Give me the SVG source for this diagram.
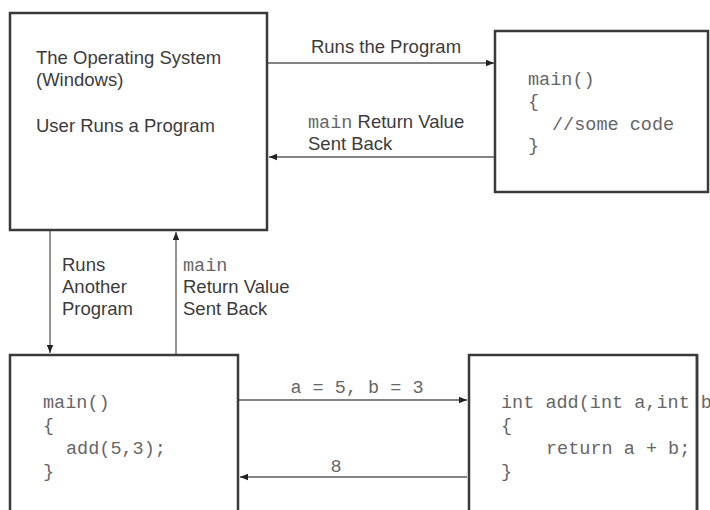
<svg xmlns="http://www.w3.org/2000/svg" width="710" height="510" viewBox="0 0 710 510">
  <style>
    .box { fill: #ffffff; stroke: #3a3a3a; stroke-width: 2.5; }
    .link { stroke: #5a5a5a; stroke-width: 1.3; fill: none; }
    .sans { font-family: "Liberation Sans", Arial, sans-serif; font-size: 18.5px; fill: #3c3c3c; }
    .mono { font-family: "Liberation Mono", "Courier New", monospace; font-size: 18.5px; fill: #666666; }
    .mid { text-anchor: middle; }
  </style>
  <defs>
    <marker id="head" viewBox="0 0 10 10" refX="10" refY="5" markerWidth="8" markerHeight="8" markerUnits="userSpaceOnUse" orient="auto">
      <path d="M0,1 L10,5 L0,9 Z" fill="#222222"/>
    </marker>
  </defs>

  <rect width="710" height="510" fill="#ffffff"/>

  <!-- connectors -->
  <g id="connectors">
    <line class="link" x1="268" y1="63" x2="494" y2="63" marker-end="url(#head)"/>
    <line class="link" x1="494" y1="157" x2="269" y2="157" marker-end="url(#head)"/>
    <line class="link" x1="50" y1="231" x2="50" y2="353" marker-end="url(#head)"/>
    <line class="link" x1="176" y1="354" x2="176" y2="232" marker-end="url(#head)"/>
    <line class="link" x1="239" y1="400" x2="467" y2="400" marker-end="url(#head)"/>
    <line class="link" x1="467" y1="477" x2="240" y2="477" marker-end="url(#head)"/>

    <text class="sans mid" x="386" y="53">Runs the Program</text>
    <text x="308" y="128"><tspan class="mono">main</tspan><tspan class="sans"> Return Value</tspan></text>
    <text class="sans" x="308" y="150">Sent Back</text>

    <text class="sans" x="62" y="271">Runs</text>
    <text class="sans" x="62" y="293">Another</text>
    <text class="sans" x="62" y="315">Program</text>

    <text class="mono" x="183" y="271">main</text>
    <text class="sans" x="183" y="293">Return Value</text>
    <text class="sans" x="183" y="315">Sent Back</text>

    <text class="mono mid" x="357" y="393">a = 5, b = 3</text>
    <text class="mono mid" x="336" y="472">8</text>
  </g>

  <!-- operating system -->
  <g id="os">
    <rect class="box" x="10" y="13" width="257" height="217"/>
    <text class="sans" x="36" y="64">The Operating System</text>
    <text class="sans" x="36" y="86">(Windows)</text>
    <text class="sans" x="36" y="132">User Runs a Program</text>
  </g>

  <!-- first program -->
  <g id="program1">
    <rect class="box" x="495" y="31" width="213" height="161"/>
    <text class="mono" x="528" y="85">main()</text>
    <text class="mono" x="528" y="107">{</text>
    <text class="mono" x="552" y="130">//some code</text>
    <text class="mono" x="528" y="151">}</text>
  </g>

  <!-- second program: main -->
  <g id="program2">
    <rect class="box" x="10" y="355" width="228" height="170"/>
    <text class="mono" x="43" y="408">main()</text>
    <text class="mono" x="43" y="431">{</text>
    <text class="mono" x="66" y="454">add(5,3);</text>
    <text class="mono" x="43" y="477">}</text>
  </g>

  <!-- second program: add (signature runs past the right border) -->
  <g id="add">
    <rect class="box" x="469" y="355" width="228" height="170"/>
    <text class="mono" x="501" y="408">int add(int a,int b</text>
    <text class="mono" x="501" y="431">{</text>
    <text class="mono" x="546" y="454">return a + b;</text>
    <text class="mono" x="501" y="477">}</text>
    <rect x="695.75" y="355" width="2.5" height="170" fill="#3a3a3a"/>
  </g>
</svg>
